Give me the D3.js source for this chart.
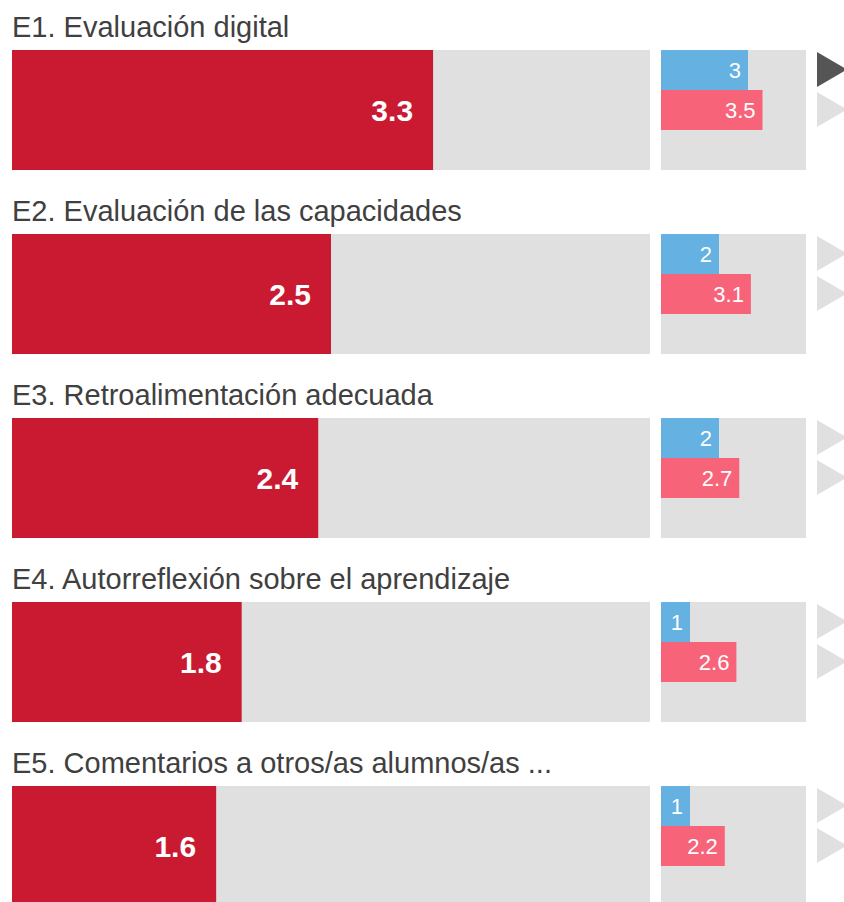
<!DOCTYPE html>
<html><head><meta charset="utf-8">
<script src="https://cdn.jsdelivr.net/npm/d3@7"></script>
<style>body{margin:0;background:#fff;}svg{display:block;}</style>
</head><body>
<script>
const categories = ["E1. Evaluación digital","E2. Evaluación de las capacidades","E3. Retroalimentación adecuada","E4. Autorreflexión sobre el aprendizaje","E5. Comentarios a otros/as alumnos/as ..."];
const mainValues = [3.3, 2.5, 2.4, 1.8, 1.6];
const blueValues = [3, 2, 2, 1, 1];
const pinkValues = [3.5, 3.1, 2.7, 2.6, 2.2];
const activeIndex = 0;

const W = 844, H = 902;
const svg = d3.select("body").append("svg").attr("width", W).attr("height", H);
const font = "'Liberation Sans', Arial, sans-serif";

const rowY = d3.scaleBand().domain(d3.range(categories.length)).range([0, 184*5]).paddingInner(0);
const xMain = d3.scaleLinear().domain([0,5]).range([12, 650]);
const xSmall = d3.scaleLinear().domain([0,5]).range([661, 806]);
const panelTop = 50, panelH = 120;

categories.forEach((cat, i) => {
  const g = svg.append("g").attr("transform", `translate(0,${rowY(i)})`);
  g.append("text").attr("x", 12).attr("y", 37).text(cat)
    .attr("font-family", font).attr("font-size", 29).attr("fill", "#404040");
  g.append("rect").attr("x", xMain(0)).attr("y", panelTop).attr("width", xMain(5)-xMain(0)).attr("height", panelH).attr("fill", "#e0e0e0");
  g.append("rect").attr("x", xMain(0)).attr("y", panelTop).attr("width", xMain(mainValues[i])-xMain(0)).attr("height", panelH).attr("fill", "#c91a32");
  g.append("text").attr("x", xMain(mainValues[i]) - 20).attr("y", panelTop + panelH/2).attr("dy", "0.36em")
    .attr("text-anchor", "end").attr("font-family", font).attr("font-weight", "bold").attr("font-size", 30).attr("fill", "#fff").text(mainValues[i]);

  g.append("rect").attr("x", xSmall(0)).attr("y", panelTop).attr("width", xSmall(5)-xSmall(0)).attr("height", panelH).attr("fill", "#e0e0e0");
  g.append("rect").attr("x", xSmall(0)).attr("y", panelTop).attr("width", xSmall(blueValues[i])-xSmall(0)).attr("height", 40).attr("fill", "#65b1e1");
  g.append("text").attr("x", xSmall(blueValues[i]) - 7).attr("y", panelTop + 20).attr("dy", "0.36em")
    .attr("text-anchor", "end").attr("font-family", font).attr("font-size", 22).attr("fill", "#fff").text(blueValues[i]);
  g.append("rect").attr("x", xSmall(0)).attr("y", panelTop + 40).attr("width", xSmall(pinkValues[i])-xSmall(0)).attr("height", 40).attr("fill", "#f7647a");
  g.append("text").attr("x", xSmall(pinkValues[i]) - 7).attr("y", panelTop + 60).attr("dy", "0.36em")
    .attr("text-anchor", "end").attr("font-family", font).attr("font-size", 22).attr("fill", "#fff").text(pinkValues[i]);

  [0,1].forEach(k => {
    const ty = panelTop + 2 + k*40;
    g.append("path").attr("d", `M817,${ty} L847,${ty+17.5} L817,${ty+35} Z`)
      .attr("fill", (i === activeIndex && k === 0) ? "#555" : "#e0e0e0");
  });
});
</script>
</body></html>
